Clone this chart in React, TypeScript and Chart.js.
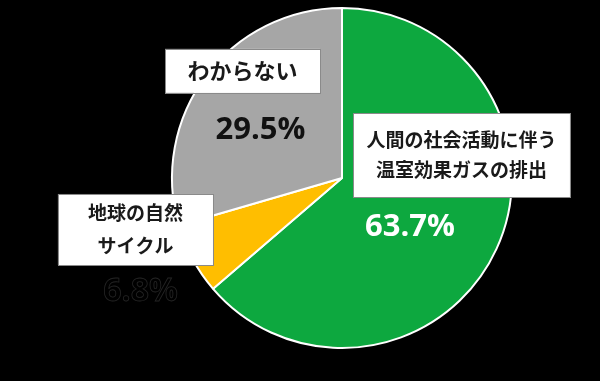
import React, { useEffect, useRef } from "react";
import { Chart, registerables } from "chart.js";

Chart.register(...registerables);

const categories = ["人間の社会活動に伴う温室効果ガスの排出", "地球の自然サイクル", "わからない"];
const values = [63.7, 6.8, 29.5];
const valueLabels = ["63.7%", "6.8%", "29.5%"];
const boxLines = [["人間の社会活動に伴う", "温室効果ガスの排出"], ["地球の自然", "サイクル"], ["わからない"]];
const colors = ["#0DA83F", "#FFBE00", "#A6A6A6"];

// label placement as fractions of the pie radius relative to its centre
const boxLayout = [
  { dx: 0.703, dy: -0.135, w: 1.276, h: 0.494, size: 19, lh: 30 },
  { dx: -1.215, dy: 0.303, w: 0.912, h: 0.418, size: 19, lh: 33 },
  { dx: -0.585, dy: -0.63, w: 0.912, h: 0.259, size: 22, lh: 30 },
];
const valueLayout = [
  { dx: 0.4, dy: 0.29, color: "#FFFFFF", size: 31 },
  { dx: -1.185, dy: 0.67, color: "#000000", size: 32 },
  { dx: -0.48, dy: -0.28, color: "#111111", size: 31 },
];

const labelPlugin = {
  id: "labelBoxes",
  afterDraw(chart: any) {
    const arc = chart.getDatasetMeta(0).data[0];
    if (!arc) return;
    const { x: cx, y: cy, outerRadius: r } = arc.getProps(["x", "y", "outerRadius"], true);
    const ctx = chart.ctx;
    ctx.save();
    boxLayout.forEach((b, i) => {
      const bx = cx + b.dx * r;
      const by = cy + b.dy * r;
      const w = b.w * r;
      const h = b.h * r;
      ctx.fillStyle = "#FFFFFF";
      ctx.fillRect(bx - w / 2, by - h / 2, w, h);
      ctx.strokeStyle = "#8A8A8A";
      ctx.lineWidth = 1;
      ctx.strokeRect(Math.round(bx - w / 2) + 0.5, Math.round(by - h / 2) + 0.5, Math.round(w), Math.round(h));
      ctx.fillStyle = "#1A1A1A";
      ctx.font = `bold ${b.size}px "Noto Sans CJK JP"`;
      ctx.textAlign = "center";
      ctx.textBaseline = "middle";
      const lines = boxLines[i];
      const start = by - ((lines.length - 1) * b.lh) / 2;
      lines.forEach((t, k) => ctx.fillText(t, bx, start + k * b.lh));
    });
    valueLayout.forEach((v, i) => {
      const vx = cx + v.dx * r;
      const vy = cy + v.dy * r;
      ctx.font = `bold ${v.size}px "Open Sans"`;
      ctx.textAlign = "center";
      ctx.textBaseline = "middle";
      ctx.fillStyle = v.color;
      ctx.fillText(valueLabels[i], vx, vy);
      if (i === 1) {
        ctx.strokeStyle = "rgba(200,200,200,0.18)";
        ctx.lineWidth = 0.8;
        ctx.strokeText(valueLabels[i], vx, vy);
      }
    });
    ctx.restore();
  },
};

export default function App() {
  const ref = useRef<HTMLCanvasElement>(null);
  useEffect(() => {
    document.body.style.margin = "0";
    document.body.style.background = "#000000";
    const chart = new Chart(ref.current!, {
      type: "pie",
      data: {
        labels: categories,
        datasets: [
          {
            data: values,
            backgroundColor: colors,
            borderColor: "#FFFFFF",
            borderWidth: 2,
          },
        ],
      },
      options: {
        animation: false,
        responsive: false,
        layout: { padding: { left: 171, right: 87, top: 7, bottom: 32 } },
        plugins: { legend: { display: false }, tooltip: { enabled: false } },
      },
      plugins: [labelPlugin],
    });
    return () => chart.destroy();
  }, []);
  return (
    <div style={{ width: 600, height: 381, background: "#000000" }}>
      <canvas ref={ref} width={600} height={381} style={{ display: "block" }} />
    </div>
  );
}
